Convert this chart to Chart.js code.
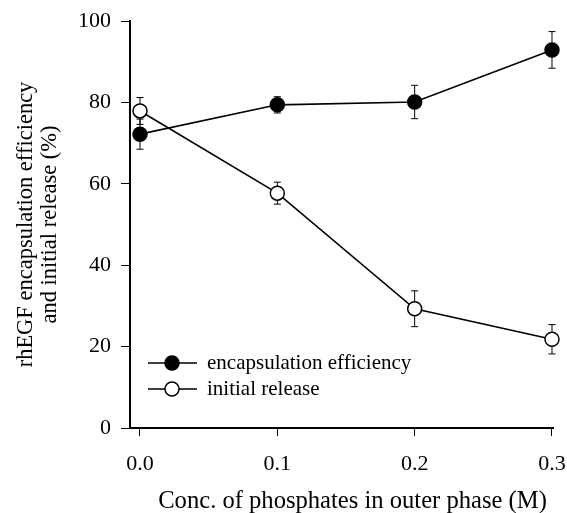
<!DOCTYPE html>
<html>
<head>
<meta charset="utf-8">
<script src="https://cdn.jsdelivr.net/npm/chart.js@4/dist/chart.umd.min.js"></script>
<style>
  html, body { margin: 0; padding: 0; background: #fff; }
  #wrap { width: 567px; height: 513px; }
</style>
</head>
<body>
<div id="wrap"><canvas id="chart" width="567" height="513"></canvas></div>
<script>
// values
const concentrations = [0.0, 0.1, 0.2, 0.3];
const xTicks = [0.0, 0.1, 0.2, 0.3];
const yTicks = [0, 20, 40, 60, 80, 100];

const efficiency = [72.2, 79.4, 80.1, 92.9];
const efficiencyErr = [3.7, 2.0, 4.1, 4.5];

const release = [77.9, 57.7, 29.3, 21.8];
const releaseErr = [3.3, 2.7, 4.4, 3.6];

const seriesNames = ['encapsulation efficiency', 'initial release'];

const serif = 'Liberation Serif, Times New Roman, serif';

function toPoints(xs, ys, errs) {
  return xs.map((x, i) => ({x: x, y: ys[i], err: errs[i]}));
}

// vertical error bars with small caps, under the markers
const errorBars = {
  id: 'errorBars',
  beforeDatasetsDraw(chart) {
    const ctx = chart.ctx;
    const xs = chart.scales.x, ys = chart.scales.y;
    ctx.save();
    ctx.strokeStyle = '#000';
    ctx.lineWidth = 1;
    chart.data.datasets.forEach(ds => {
      ds.data.forEach(p => {
        const px = xs.getPixelForValue(p.x);
        const top = ys.getPixelForValue(p.y + p.err);
        const bot = ys.getPixelForValue(p.y - p.err);
        ctx.beginPath();
        ctx.moveTo(px, top); ctx.lineTo(px, bot);
        ctx.moveTo(px - 3.5, top); ctx.lineTo(px + 3.5, top);
        ctx.moveTo(px - 3.5, bot); ctx.lineTo(px + 3.5, bot);
        ctx.stroke();
      });
    });
    ctx.restore();
  }
};

// legend with the line running through the marker
const lineLegend = {
  id: 'lineLegend',
  afterDraw(chart) {
    const ctx = chart.ctx;
    ctx.save();
    chart.data.datasets.forEach((ds, i) => {
      const y = 363 + i * 26;
      ctx.strokeStyle = '#000';
      ctx.lineWidth = 1.5;
      ctx.beginPath();
      ctx.moveTo(148, y); ctx.lineTo(197, y);
      ctx.stroke();
      ctx.beginPath();
      ctx.arc(172, y, 7, 0, Math.PI * 2);
      ctx.fillStyle = ds.pointBackgroundColor;
      ctx.fill();
      ctx.stroke();
      ctx.fillStyle = '#000';
      ctx.font = '21px ' + serif;
      ctx.textBaseline = 'middle';
      ctx.fillText(ds.label, 207, y);
    });
    ctx.restore();
  }
};

const ctx = document.getElementById('chart').getContext('2d');
new Chart(ctx, {
  type: 'line',
  data: {
    datasets: [
      {
        label: seriesNames[0],
        data: toPoints(concentrations, efficiency, efficiencyErr),
        borderColor: '#000',
        borderWidth: 1.6,
        pointRadius: 7,
        pointBorderWidth: 1.5,
        pointBorderColor: '#000',
        pointBackgroundColor: '#000',
        tension: 0,
        clip: false
      },
      {
        label: seriesNames[1],
        data: toPoints(concentrations, release, releaseErr),
        borderColor: '#000',
        borderWidth: 1.6,
        pointRadius: 7,
        pointBorderWidth: 1.5,
        pointBorderColor: '#000',
        pointBackgroundColor: '#fff',
        tension: 0,
        clip: false
      }
    ]
  },
  options: {
    responsive: false,
    animation: false,
    layout: {padding: {top: 21, right: 14, left: 0, bottom: 0}},
    plugins: {legend: {display: false}, tooltip: {enabled: false}},
    scales: {
      x: {
        type: 'linear',
        min: -0.00728,
        max: 0.30073,
        afterBuildTicks(scale) { scale.ticks = xTicks.map(v => ({value: v})); },
        afterFit(scale) {
          scale.height = 85;
          scale.paddingLeft = 0;
          scale.paddingRight = 0;
        },
        ticks: {
          color: '#000',
          font: {family: serif, size: 22},
          padding: 15,
          callback: v => v.toFixed(1)
        },
        grid: {display: true, drawOnChartArea: false, drawTicks: true, tickLength: 8, color: '#000', lineWidth: 1},
        border: {display: true, color: '#000', width: 2},
        title: {
          display: true,
          align: 'end',
          text: 'Conc. of phosphates in outer phase (M) ',
          color: '#000',
          font: {family: serif, size: 24.6, lineHeight: 0.9},
          padding: {top: 0, bottom: 0}
        }
      },
      y: {
        type: 'linear',
        min: 0,
        max: 100,
        afterBuildTicks(scale) { scale.ticks = yTicks.map(v => ({value: v})); },
        afterFit(scale) {
          scale.width = 130;
          scale.paddingTop = 0;
          scale.paddingBottom = 0;
        },
        ticks: {
          color: '#000',
          font: {family: serif, size: 22},
          padding: 10
        },
        grid: {display: true, drawOnChartArea: false, drawTicks: true, tickLength: 9, color: '#000', lineWidth: 1},
        border: {display: true, color: '#000', width: 2},
        title: {
          display: true,
          text: ['rhEGF encapsulation efficiency', 'and initial release (%)'],
          color: '#000',
          font: {family: serif, size: 22.5, lineHeight: 1.03},
          padding: {top: 15, bottom: 0}
        }
      }
    }
  },
  plugins: [errorBars, lineLegend]
});
</script>
</body>
</html>
